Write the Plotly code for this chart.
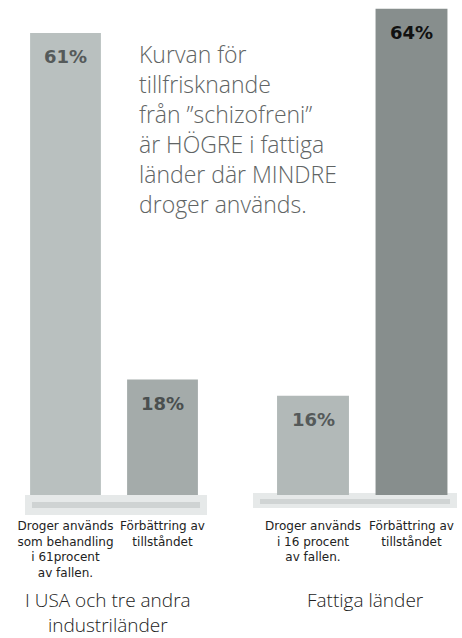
import plotly.graph_objects as go

# ---- data ----
groups = ["I USA och tre andra<br>industriländer", "Fattiga länder"]
cat_usa = ["Droger används<br>som behandling<br>i 61procent<br>av fallen.",
           "Förbättring av<br>tillståndet"]
cat_poor = ["Droger används<br>i 16 procent<br>av fallen.",
            "Förbättring av<br>tillståndet"]
val_usa = [61, 18]
val_poor = [16, 64]
lab_usa = ["61%", "18%"]
lab_poor = ["16%", "64%"]
headline = ("Kurvan för<br>tillfrisknande<br>från ”schizofreni”<br>"
            "är HÖGRE i fattiga<br>länder där MINDRE<br>droger används.")

# ---- styling ----
W, H = 462, 638
FONT = "Open Sans"
TICKFONT = "DejaVu Sans"
col_usa = ["#b9c0bf", "#a4abaa"]
col_poor = ["#b2b9b8", "#878e8d"]
lab_col_usa = ["#555a5a", "#4a4f4f"]
lab_col_poor = ["#555a5a", "#111111"]


def px(x):
    return x / W


def py(y):
    return (H - y) / H


fig = go.Figure()
fig.add_trace(go.Bar(x=cat_usa, y=val_usa, marker=dict(color=col_usa, line=dict(width=0)),
                     width=0.73, xaxis="x", yaxis="y", hoverinfo="skip"))
fig.add_trace(go.Bar(x=cat_poor, y=val_poor, marker=dict(color=col_poor, line=dict(width=0)),
                     width=0.73, xaxis="x2", yaxis="y2", hoverinfo="skip"))

annotations = []
for cats, vals, labs, cols, xr, yr in [
    (cat_usa, val_usa, lab_usa, lab_col_usa, "x", "y"),
    (cat_poor, val_poor, lab_poor, lab_col_poor, "x2", "y2"),
]:
    for c, v, t, cc in zip(cats, vals, labs, cols):
        annotations.append(dict(x=c, y=v, xref=xr, yref=yr, text=f"<b>{t}</b>",
                                showarrow=False, yanchor="middle", yshift=-24,
                                font=dict(family=TICKFONT, size=18, color=cc)))

annotations.append(dict(x=px(137), y=py(36), xref="paper", yref="paper",
                        xanchor="left", yanchor="top", align="left", text=headline,
                        showarrow=False,
                        font=dict(family=FONT, size=23, color="#606464", weight=300)))
annotations.append(dict(x=px(108), y=py(585), xref="paper", yref="paper",
                        xanchor="center", yanchor="top", align="center", text=groups[0],
                        showarrow=False,
                        font=dict(family=FONT, size=19, color="#222222", weight=300)))
annotations.append(dict(x=px(365), y=py(585), xref="paper", yref="paper",
                        xanchor="center", yanchor="top", align="center", text=groups[1],
                        showarrow=False,
                        font=dict(family=FONT, size=19, color="#222222", weight=300)))

shapes = [
    dict(type="rect", xref="paper", yref="paper", x0=px(25), x1=px(207), y0=py(515), y1=py(495),
         fillcolor="#e6e9e9", line=dict(width=0), layer="below"),
    dict(type="rect", xref="paper", yref="paper", x0=px(32), x1=px(200), y0=py(508), y1=py(502),
         fillcolor="#cfd3d3", line=dict(width=0), layer="below"),
    dict(type="rect", xref="paper", yref="paper", x0=px(253), x1=px(457), y0=py(508), y1=py(493),
         fillcolor="#e6e9e9", line=dict(width=0), layer="below"),
    dict(type="rect", xref="paper", yref="paper", x0=px(260), x1=px(450), y0=py(504), y1=py(499),
         fillcolor="#d0d4d4", line=dict(width=0), layer="below"),
]

yrng = [3.67, 65.09]
xcommon = dict(showgrid=False, zeroline=False, showline=False, ticks="",
               tickfont=dict(family=TICKFONT, size=12, color="#222222"),
               ticklabelstandoff=22, fixedrange=True)
ycommon = dict(range=yrng, showgrid=False, zeroline=False, showline=False,
               showticklabels=False, ticks="", domain=[py(495), 1.0], fixedrange=True)

fig.update_layout(
    width=W, height=H,
    margin=dict(l=0, r=0, t=0, b=0),
    paper_bgcolor="white", plot_bgcolor="rgba(0,0,0,0)",
    showlegend=False,
    xaxis=dict(domain=[px(17), px(211)], anchor="y", **xcommon),
    xaxis2=dict(domain=[px(263.75), px(460.75)], anchor="y2", **xcommon),
    yaxis=dict(anchor="x", **ycommon),
    yaxis2=dict(anchor="x2", **ycommon),
    annotations=annotations,
    shapes=shapes,
    font=dict(family=FONT),
)

fig.write_html("out.html", config=dict(displayModeBar=False))
